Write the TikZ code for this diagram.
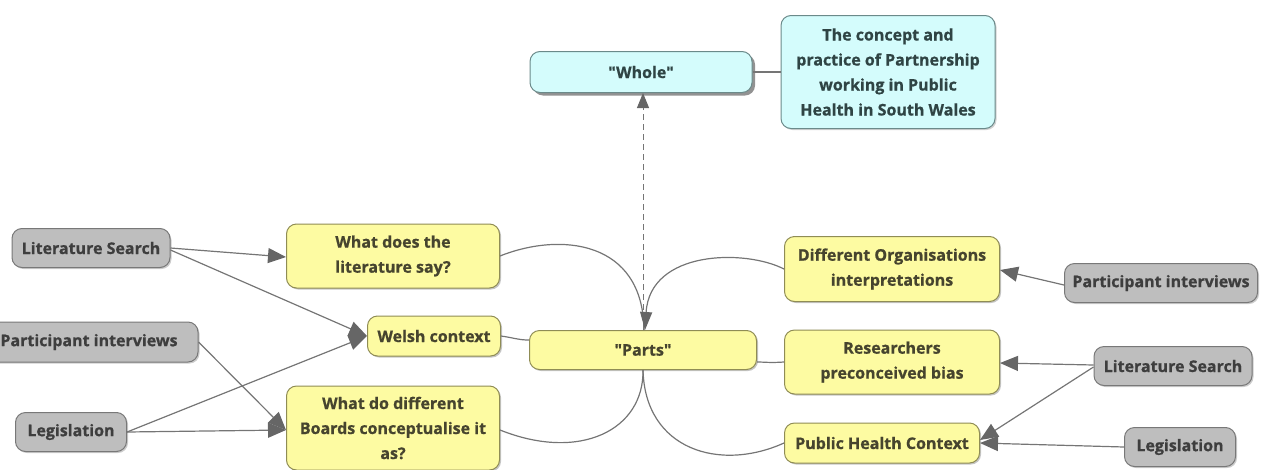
\documentclass[tikz,border=0pt]{standalone}
\usepackage{fontspec}
\setmainfont{Open Sans}[Ligatures=TeXOff, BoldFeatures={FakeBold=0.8}]
\usetikzlibrary{arrows.meta,shadows}
\definecolor{yfill}{HTML}{FDFBA2}
\definecolor{ydraw}{HTML}{8F8C55}
\definecolor{ytext}{HTML}{46442E}
\definecolor{gfill}{HTML}{BEBEBE}
\definecolor{gdraw}{HTML}{787878}
\definecolor{gtext}{HTML}{3E3E3E}
\definecolor{cfill}{HTML}{D4FCFC}
\definecolor{cdraw}{HTML}{6B8A8A}
\definecolor{ctext}{HTML}{2F4444}
\definecolor{conncol}{HTML}{757575}
\definecolor{tipcol}{HTML}{666666}
\begin{document}
\begin{tikzpicture}[x=1pt,y=-1pt,
  base/.style={rounded corners=10pt, line width=1pt, align=center, inner sep=0pt,
    font=\fontsize{16}{25}\selectfont\bfseries},
  ynode/.style={base, fill=yfill, draw=ydraw, text=ytext,
    drop shadow={shadow xshift=1.5pt,shadow yshift=-1.5pt,fill=black!45}},
  gnode/.style={base, fill=gfill, draw=gdraw, text=gtext,
    drop shadow={shadow xshift=1.5pt,shadow yshift=-1.5pt,fill=black!40}},
  cnode/.style={base, fill=cfill, draw=cdraw, text=ctext,
    drop shadow={shadow xshift=1.5pt,shadow yshift=-1.5pt,fill=black!35}},
  wnode/.style={base, fill=cfill, draw=cdraw, text=ctext,
    drop shadow={shadow xshift=3pt,shadow yshift=-3pt,fill=black!85}},
  conn/.style={draw=conncol, line width=1.2pt},
  arr/.style={conn, -{Triangle[length=18pt,width=15pt,fill=tipcol,color=tipcol]}},
  sz/.style 2 args={minimum width=#1pt, minimum height=#2pt}
]
\useasboundingbox (0,0) rectangle (1263,469);

% nodes
\node[wnode, sz={222}{41}] (whole) at (641,72) {"Whole"};
\node[cnode, sz={214}{113}] (concept) at (888,72) {The concept and\\practice of Partnership\\working in Public\\Health in South Wales};

\node[ynode, sz={227}{39}] (parts) at (643,350) {"Parts"};
\node[ynode, sz={213}{64}] (whatlit) at (393,256) {What does the\\literature say?};
\node[ynode, sz={133}{40}] (welsh) at (434,336) {Welsh context};
\node[ynode, sz={213}{84}] (boards) at (393,428) {What do different\\Boards conceptualise it\\as?};
\node[ynode, sz={215}{65}] (difforg) at (892,269) {Different Organisations\\interpretations};
\node[ynode, sz={215}{64}] (research) at (892,362) {Researchers\\preconceived bias};
\node[ynode, sz={195}{40}] (phc) at (882,443) {Public Health Context};

\node[gnode, sz={218}{40}] (partl) at (89,342) {Participant interviews};
\node[gnode, sz={158}{39}] (litl) at (91,248) {Literature Search};
\node[gnode, sz={111}{39}] (legl) at (71,432) {Legislation};
\node[gnode, sz={193}{39}] (partr) at (1161,283) {Participant interviews};
\node[gnode, sz={158}{39}] (litr) at (1173,366) {Literature Search};
\node[gnode, sz={111}{39}] (legr) at (1180,447) {Legislation};

% whole / concept
\draw[conn] (whole.east) -- (concept.west |- whole.east);
\draw[conn, line width=1pt, dash pattern=on 6pt off 4pt, -{Triangle[length=15pt,width=12pt,fill=tipcol,color=tipcol]}] (parts.north) -- (whole.south -| parts.north);

% curves into parts
\draw[conn] (whatlit.east) .. controls (560,232) and (643,240) .. ([xshift=1pt]parts.north);
\draw[conn, -{Triangle[length=18pt,width=12pt,fill=tipcol,color=tipcol]}] (difforg.west) .. controls (745,249) and (650,250) .. ([xshift=2pt]parts.north);
\draw[conn] (welsh.east) .. controls (515,338) and (518,340) .. ([yshift=10pt]parts.west);
\draw[conn] (research.west) .. controls (770,363) and (765,362) .. ([yshift=-12pt]parts.east);
\draw[conn] ([yshift=-2pt]boards.east) .. controls (580,462) and (644,430) .. (parts.south);
\draw[conn] (phc.west) .. controls (720,472) and (645,450) .. (parts.south);

% left inputs
\draw[arr] (litl.east) -- ([yshift=-1pt]whatlit.west);
\draw[arr] ([yshift=-2pt]litl.east) -- (welsh.west);
\draw[arr] (partl.east) -- ([yshift=-2pt]boards.west);
\draw[arr] (legl.east) -- (welsh.west);
\draw[arr] (legl.east) -- ([yshift=-2pt]boards.west);

% right inputs
\draw[arr] ([yshift=-2pt]partr.west) -- ([yshift=-1pt]difforg.east);
\draw[arr] ([yshift=1pt]litr.west) -- ([yshift=-1pt]research.east);
\draw[arr] ([yshift=-1pt]litr.west) -- ([yshift=3pt]phc.east);
\draw[arr] (legr.west) -- (phc.east);
\end{tikzpicture}
\end{document}
